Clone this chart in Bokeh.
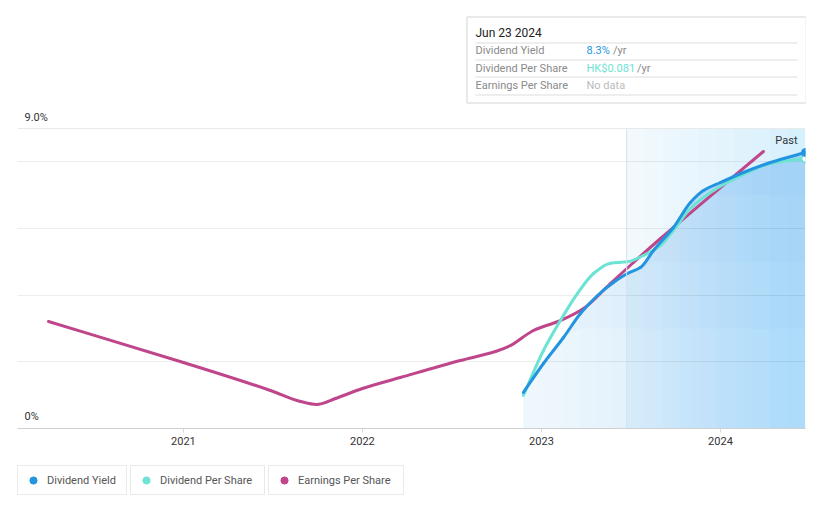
from bokeh.plotting import figure
from bokeh.layouts import column
from bokeh.models import Range1d, FixedTicker, Span, Label, Legend, LegendItem
from bokeh.core.properties import value
from bokeh.embed import file_html
from bokeh.resources import INLINE

# ---------------- data ----------------
yield_year = [2022.899, 2023.011, 2023.123, 2023.218, 2023.313, 2023.402, 2023.480, 2023.553,
              2023.626, 2023.737, 2023.832, 2023.905, 2024.000, 2024.128, 2024.279, 2024.475]
yield_pct = [1.08, 1.95, 2.73, 3.45, 3.99, 4.38, 4.65, 4.83,
             5.34, 6.03, 6.78, 7.14, 7.38, 7.68, 7.98, 8.28]

dps_year = [2022.899, 2023.011, 2023.106, 2023.201, 2023.291, 2023.385, 2023.480, 2023.570,
            2023.665, 2023.737, 2023.832, 2023.961, 2024.095, 2024.279, 2024.475]
dps_hkd = [0.0099, 0.0234, 0.0324, 0.0405, 0.0465, 0.0496, 0.0500, 0.0519,
           0.0549, 0.0594, 0.0660, 0.0714, 0.0753, 0.0795, 0.0810]

eps_year = [2020.246, 2021.000, 2021.486, 2021.654, 2021.743, 2021.849, 2022.000, 2022.212,
            2022.547, 2022.743, 2022.827, 2022.955, 2023.106, 2023.235, 2023.385, 2023.514,
            2023.665, 2024.240]
eps_val = [3.21, 1.98, 1.14, 0.81, 0.72, 0.90, 1.20, 1.53,
           2.04, 2.31, 2.49, 2.94, 3.24, 3.60, 4.35, 4.98,
           5.70, 8.31]

x_start, x_end = 2020.073, 2024.475
past_start = 2023.476
y_ticks = [0, 2, 4, 6, 8]
year_ticks = [2021, 2022, 2023, 2024]
y_top = 9.0
y_top_label = "9.0%"
y_zero_label = "0%"

tip_date = "Jun 23 2024"
tip_rows = ["Dividend Yield", "Dividend Per Share", "Earnings Per Share"]
tip_values = ["8.3%", "HK$0.081", "No data"]
series_names = ["Dividend Yield", "Dividend Per Share", "Earnings Per Share"]

BLUE = "#2394df"
TEAL = "#6de3d4"
MAG = "#c0468b"
FONT = "Roboto"

# page geometry (pixels)
W = 821
FRAME_L, FRAME_R = 17, 805


def monotone_bezier(xs, ys):
    """Control points for a smooth monotone cubic drawn through the given points."""
    n = len(xs)
    h = [xs[i + 1] - xs[i] for i in range(n - 1)]
    d = [(ys[i + 1] - ys[i]) / h[i] for i in range(n - 1)]
    m = [0.0] * n
    m[0], m[-1] = d[0], d[-1]
    for i in range(1, n - 1):
        if d[i - 1] * d[i] <= 0:
            m[i] = 0.0
        else:
            w1 = 2 * h[i] + h[i - 1]
            w2 = h[i] + 2 * h[i - 1]
            m[i] = (w1 + w2) / (w1 / d[i - 1] + w2 / d[i])
    out = dict(x0=[], y0=[], x1=[], y1=[], cx0=[], cy0=[], cx1=[], cy1=[])
    for i in range(n - 1):
        out["x0"].append(xs[i]); out["y0"].append(ys[i])
        out["x1"].append(xs[i + 1]); out["y1"].append(ys[i + 1])
        out["cx0"].append(xs[i] + h[i] / 3); out["cy0"].append(ys[i] + m[i] * h[i] / 3)
        out["cx1"].append(xs[i + 1] - h[i] / 3); out["cy1"].append(ys[i + 1] - m[i + 1] * h[i] / 3)
    return out


def strip(height):
    f = figure(width=W, height=height, x_range=Range1d(FRAME_L, FRAME_R),
               y_range=Range1d(height, 0), output_backend="svg", toolbar_location=None,
               min_border_left=FRAME_L, min_border_right=W - FRAME_R,
               min_border_top=0, min_border_bottom=0,
               x_axis_location=None, y_axis_location=None)
    f.grid.visible = False
    f.outline_line_color = None
    f.border_fill_color = "white"
    return f


# ================= top strip: tooltip + 9.0% label =================
top = strip(123)
top.quad(left=[466.5], right=[805.5], top=[16.5], bottom=[102.5],
         fill_color="white", line_color="#d3d3d3", line_width=1)
top.segment(x0=[475] * 4, x1=[797] * 4, y0=[42.5, 59.5, 76.5, 94.5], y1=[42.5, 59.5, 76.5, 94.5],
            line_color="#dddddd", line_width=1)

top.text(x=[475], y=[32], text=[tip_date], text_font=value(FONT), text_font_size="12px",
         text_color="#222222", text_baseline="middle")
top.text(x=[475] * 3, y=[50, 67.5, 85], text=tip_rows, text_font=value(FONT),
         text_font_size="11px", text_color="#8a8a8a", text_baseline="middle")
top.text(x=[586], y=[50], text=[tip_values[0]], text_font=value(FONT), text_font_size="11px",
         text_color=BLUE, text_baseline="middle")
top.text(x=[586], y=[67.5], text=[tip_values[1]], text_font=value(FONT), text_font_size="11px",
         text_color=TEAL, text_baseline="middle")
top.text(x=[586], y=[85], text=[tip_values[2]], text_font=value(FONT), text_font_size="11px",
         text_color="#bbbbbb", text_baseline="middle")
top.text(x=[612.5, 636.5], y=[50, 67.5], text=["/yr", "/yr"], text_font=value(FONT),
         text_font_size="11px", text_color="#8a8a8a", text_baseline="middle")
top.text(x=[24], y=[116.5], text=[y_top_label], text_font=value(FONT), text_font_size="11px",
         text_color="#333333", text_baseline="middle")

# ================= main chart =================
p = figure(width=W, height=335, x_range=Range1d(x_start, x_end), y_range=Range1d(0, y_top),
           output_backend="svg", toolbar_location=None,
           min_border_left=FRAME_L, min_border_right=W - FRAME_R, min_border_top=5,
           min_border_bottom=30)
p.extra_y_ranges = {"dps": Range1d(0, y_top / 100)}
p.outline_line_color = None
p.background_fill_color = "white"
p.border_fill_color = "white"

p.yaxis.visible = False
p.xgrid.visible = False
p.ygrid.ticker = FixedTicker(ticks=y_ticks)
p.ygrid.grid_line_color = "#000000"
p.ygrid.grid_line_alpha = 0.07
p.ygrid.grid_line_width = 1

ax = p.xaxis[0]
ax.ticker = FixedTicker(ticks=year_ticks)
ax.axis_line_color = "#d0d0d0"
ax.major_tick_line_color = "#d8d8d8"
ax.major_tick_in = 0
ax.major_tick_out = 4
ax.minor_tick_line_color = None
ax.major_label_text_font = FONT
ax.major_label_text_font_size = "11px"
ax.major_label_text_color = "#333333"
ax.major_label_standoff = 4

# background of the "past" period (stepped to imitate a gradient)
p.quad(left=[past_start], right=[x_end], bottom=[0], top=[y_top],
       fill_color=BLUE, fill_alpha=0.06, line_color=None, level="image")
for k in range(1, 10):
    lft = past_start + k * (x_end - past_start) / 10
    p.quad(left=[lft], right=[x_end], bottom=[0], top=[y_top],
           fill_color=BLUE, fill_alpha=0.011, line_color=None, level="image")

# area under the dividend yield line
n = len(yield_year)
p.varea(x=yield_year, y1=[0] * n, y2=yield_pct, fill_color=BLUE, fill_alpha=0.08, level="image")
for i in range(1, n - 1):
    p.varea(x=yield_year[i:], y1=[0] * (n - i), y2=yield_pct[i:],
            fill_color=BLUE, fill_alpha=0.008, level="image")
for lvl in [3, 5, 7]:
    p.varea(x=yield_year, y1=[min(lvl, v) for v in yield_pct], y2=yield_pct,
            fill_color=BLUE, fill_alpha=0.022, level="image")

p.add_layout(Span(location=past_start, dimension="height", line_color="#cfe3f4", line_width=1))
p.add_layout(Span(location=y_top, dimension="width", line_color="#d4d4d4", line_width=1))

# lines (smooth curves through the read points)
b = monotone_bezier(eps_year, eps_val)
p.bezier(**b, line_color=MAG, line_width=3, line_cap="round")
b = monotone_bezier(dps_year, dps_hkd)
p.bezier(**b, y_range_name="dps", line_color=TEAL, line_width=3, line_cap="round")
b = monotone_bezier(yield_year, yield_pct)
p.bezier(**b, line_color=BLUE, line_width=3, line_cap="round")

p.scatter([dps_year[-1]], [dps_hkd[-1]], y_range_name="dps", size=8, fill_color="white",
          line_color=TEAL, line_width=2)
p.scatter([yield_year[-1]], [yield_pct[-1]], size=8, fill_color=BLUE, line_color=BLUE)

p.add_layout(Label(x=x_start, y=0, x_offset=7, y_offset=12, text=y_zero_label,
                   text_font=FONT, text_font_size="11px", text_color="#333333",
                   text_baseline="middle"))
p.add_layout(Label(x=x_end, y=y_top, x_offset=-8, y_offset=-12, text="Past",
                   text_font=FONT, text_font_size="11px", text_color="#333333",
                   text_align="right", text_baseline="middle"))

# ================= legend strip =================
lg = strip(50)
leg_pos = [(17, 76), (130, 101), (268, 102)]
for name, col, (lx, lw) in zip(series_names, [BLUE, TEAL, MAG], leg_pos):
    # a hidden point, only to give the legend its coloured dot
    r = lg.scatter(x=[-100], y=[-100], marker="circle", fill_color=col, line_color=col, size=8)
    leg = Legend(items=[LegendItem(label=name, renderers=[r])], location=(lx - FRAME_L, 13),
                 orientation="horizontal", padding=5, margin=0, spacing=0,
                 glyph_width=20, glyph_height=18, label_height=18, label_width=lw - 2,
                 label_standoff=4, label_text_font=FONT, label_text_font_size="11px",
                 label_text_color="#555555", border_line_color="#d6d6d6",
                 border_line_width=1, background_fill_color="white", background_fill_alpha=1)
    lg.add_layout(leg)

layout = column(top, p, lg, spacing=0)
open("out.html", "w").write(file_html(layout, INLINE))
